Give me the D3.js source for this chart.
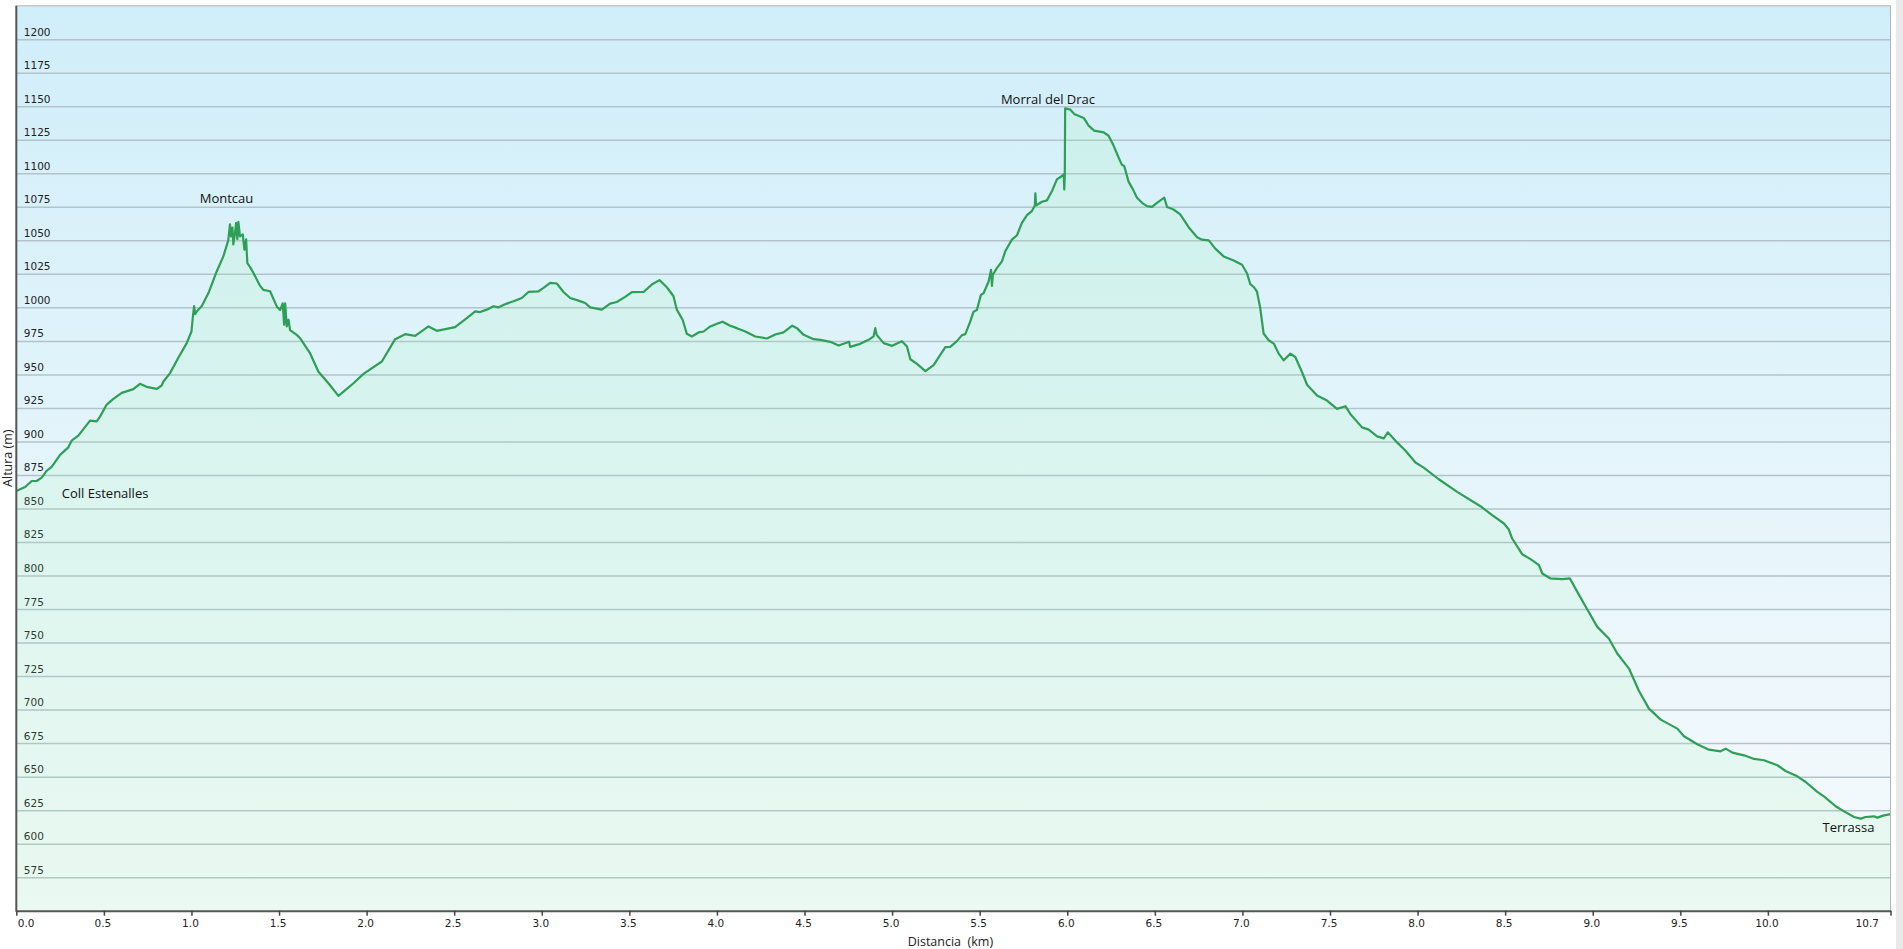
<!DOCTYPE html>
<html>
<head>
<meta charset="utf-8">
<script src="https://cdn.jsdelivr.net/npm/d3@7"></script>
<style>
  html, body { margin: 0; padding: 0; background: #ffffff; }
  svg { display: block; }
</style>
</head>
<body>
<svg id="chart" width="1903" height="949"></svg>
<script>
// ---------------- DATA ----------------
const distanceKm = [
  0.000,0.050,0.088,0.116,0.145,0.173,0.202,0.250,0.297,0.316,0.354,0.421,0.459,0.478,0.516,0.554,0.602,0.668,0.706,0.744,
  0.802,0.830,0.840,0.878,0.925,0.973,1.000,1.008,1.015,1.021,1.030,1.059,1.097,1.144,1.182,1.210,1.220,1.226,1.234,1.239,
  1.249,1.255,1.262,1.268,1.277,1.293,1.302,1.312,1.319,1.335,1.354,1.392,1.411,1.449,1.487,1.506,1.521,1.529,1.535,1.544,
  1.554,1.563,1.601,1.620,1.677,1.725,1.782,1.839,1.858,1.925,1.982,2.087,2.163,2.220,2.277,2.353,2.401,2.505,2.572,2.620,
  2.648,2.686,2.724,2.753,2.800,2.838,2.886,2.924,2.981,3.010,3.048,3.086,3.124,3.162,3.210,3.248,3.276,3.343,3.390,3.428,
  3.476,3.514,3.581,3.628,3.672,3.714,3.752,3.771,3.804,3.828,3.857,3.895,3.924,3.962,4.000,4.032,4.076,4.114,4.162,4.219,
  4.285,4.333,4.380,4.430,4.457,4.495,4.552,4.590,4.647,4.695,4.755,4.760,4.818,4.866,4.894,4.904,4.912,4.952,5.000,5.056,
  5.085,5.104,5.142,5.190,5.237,5.275,5.304,5.332,5.370,5.399,5.418,5.446,5.465,5.484,5.507,5.522,5.551,5.565,5.570,5.575,
  5.598,5.627,5.646,5.684,5.713,5.741,5.770,5.798,5.815,5.818,5.822,5.856,5.884,5.913,5.941,5.970,5.980,5.983,5.986,5.988,
  6.017,6.040,6.094,6.122,6.154,6.208,6.236,6.265,6.293,6.312,6.325,6.350,6.375,6.398,6.427,6.455,6.484,6.512,6.554,6.570,
  6.607,6.645,6.693,6.741,6.769,6.808,6.845,6.893,6.950,6.998,7.026,7.045,7.068,7.083,7.102,7.121,7.150,7.179,7.207,7.236,
  7.274,7.302,7.340,7.369,7.426,7.483,7.540,7.588,7.616,7.683,7.721,7.769,7.807,7.830,7.883,7.931,7.988,8.035,8.121,8.226,
  8.359,8.426,8.493,8.521,8.540,8.597,8.645,8.693,8.712,8.759,8.826,8.870,8.912,8.969,9.026,9.092,9.140,9.207,9.264,9.321,
  9.388,9.483,9.521,9.597,9.664,9.730,9.759,9.797,9.864,9.921,9.978,10.054,10.101,10.168,10.216,10.282,10.320,10.387,10.435,10.492,
  10.530,10.558,10.606,10.625,10.663,10.700
];
const altitudeM = [
  863,866,870.5,870.5,873,878,881,890,895.6,900.6,904.3,915.5,915,918.5,927.5,931.7,936.2,939,943,940.7,
  939.2,941.7,944.7,951,962.4,973.3,982,993,1001,995,997,1001,1010.7,1026.8,1038,1050,1062,1053,1059.5,1047,
  1055.8,1063,1050.8,1063.8,1053,1054.5,1043,1050.8,1033,1030,1025.6,1016,1013,1012,1000.7,998,1003,987,1003,985.8,
  990.8,983,979.5,977,965.8,952,943.4,934,936,943.4,950.4,959.6,976.3,980,978.8,985.8,982.5,985.3,992,997,
  996.5,998.3,1000.8,1000,1002.8,1004.5,1007,1011.5,1012,1014.5,1018.3,1017.8,1011.5,1007,1005,1003.3,1000,998.3,1002.8,1004,
  1007.8,1011.3,1011.5,1017,1020.3,1015,1008.3,998.3,990.8,980.3,978.3,981.3,982,985.8,987.8,989.3,986.3,984.5,982,978.3,
  976.8,979.8,981.3,986.3,984.5,979.5,976.3,975.8,974.3,971.5,974.3,970.5,972.8,975.8,978.3,984.5,979.5,973.3,971.3,974.8,
  970.8,961.3,957.8,952.5,957,964.5,970.3,970.5,974.8,979.3,980,989.3,996.8,998,1009.3,1010.5,1019.3,1028,1016,1024.3,
  1029.3,1034.3,1041.8,1050.5,1053.8,1063,1068.8,1071.8,1076,1085,1076,1078.8,1079.8,1086.8,1095.5,1098,1099.3,1088,1099,1148.5,
  1147.5,1144.3,1141.3,1135.5,1131.8,1130.5,1128,1120.5,1111.8,1106.3,1105.5,1093.8,1088,1081.8,1078,1075.5,1075,1078,1081.8,1074.8,
  1073,1069.3,1059.8,1052.3,1050.5,1050,1043.8,1038,1035,1031.8,1025.5,1017.3,1014.8,1011.8,999.3,980.5,975.5,973,965.5,960.5,
  965.5,963,951.8,942.3,934.3,930.5,924.3,926.3,920.5,910.5,908.8,903.8,902.3,906.8,899.3,893,884.3,880.5,871.8,862.4,
  851.7,845,838.8,834.3,827.6,815.9,812.2,807.7,801.5,797.8,797.3,797.8,787.8,774.6,761.7,753,741.8,730.6,713.9,700.7,
  692.5,685.8,680.1,674.1,670.1,668.9,670.9,667.9,665.9,663.2,662.2,658.5,654.2,650.2,646,638.6,635.3,627.9,624.1,619.9,
  618.7,619.9,620.4,619.4,621.1,622
];
const yTicks = [575,600,625,650,675,700,725,750,775,800,825,850,875,900,925,950,975,1000,1025,1050,1075,1100,1125,1150,1175,1200];
const xTicks = [0,0.5,1,1.5,2,2.5,3,3.5,4,4.5,5,5.5,6,6.5,7,7.5,8,8.5,9,9.5,10,10.7];
const placeNames = ["Coll Estenalles","Montcau","Morral del Drac","Terrassa"];
const placeKm     = [0.26, 1.20, 5.89, 10.46];
const placeAlt    = [858, 1078, 1152, 609];
const xTitle = "Distancia  (km)";
const yTitle = "Altura (m)";

// ---------------- CHART ----------------
const svg = d3.select("#chart");
const L = 16.3, R = 1890.5, T = 5.7, B = 910.7;
const x = d3.scaleLinear().domain([0, 10.7]).range([L, R]);
const y = d3.scaleLinear().domain([550, 1225]).range([B, T]);

const defs = svg.append("defs");
const bg = defs.append("linearGradient").attr("id","bg").attr("x1",0).attr("y1",0).attr("x2",0).attr("y2",1);
bg.append("stop").attr("offset","0%").attr("stop-color","#d0eef9");
bg.append("stop").attr("offset","55%").attr("stop-color","#e6f5fb");
bg.append("stop").attr("offset","100%").attr("stop-color","#f6fafd");

svg.append("rect").attr("x",1896).attr("y",0).attr("width",7).attr("height",949).attr("fill","#e9e9e9");

svg.append("rect").attr("x",L).attr("y",T).attr("width",R-L).attr("height",B-T).attr("fill","url(#bg)");

// grid + y labels
const yAxis = d3.axisRight(y).tickValues(yTicks).tickSize(R - L).tickFormat(d3.format("d"));
const gy = svg.append("g").attr("transform",`translate(${L},0)`).call(yAxis);
gy.select(".domain").remove();
gy.selectAll(".tick line").attr("stroke","#b3c3ca").attr("stroke-width",1.5);
gy.selectAll(".tick text")
  .attr("x", 7.5).attr("dy", -4).attr("y", 0)
  .attr("text-anchor","start").attr("dominant-baseline","auto")
  .attr("fill","#222").style("font-family","Verdana, 'DejaVu Sans', sans-serif").style("font-size","10.5px");

const pts = distanceKm.map((d,i)=>[d, altitudeM[i]]);
const area = d3.area().x(d=>x(d[0])).y0(y(550)).y1(d=>y(d[1]));
svg.append("path").datum(pts).attr("d",area).attr("fill","rgb(150,250,160)").attr("fill-opacity",0.12);
const line = d3.line().x(d=>x(d[0])).y(d=>y(d[1]));
svg.append("path").datum(pts).attr("d",line).attr("fill","none").attr("stroke","#2e9f56").attr("stroke-width",2.2).attr("stroke-linejoin","round");

// borders
svg.append("line").attr("x1",L).attr("x2",R).attr("y1",T).attr("y2",T).attr("stroke","#c8c8c8").attr("stroke-width",1.5);
svg.append("line").attr("x1",R).attr("x2",R).attr("y1",T).attr("y2",B).attr("stroke","#b4b4b4").attr("stroke-width",1);

// x axis
const xAxis = d3.axisBottom(x).tickValues(xTicks).tickSize(5).tickSizeOuter(0).tickFormat(d3.format(".1f"));
const gx = svg.append("g").attr("transform",`translate(0,${B})`).call(xAxis);
gx.select(".domain").attr("stroke","#555").attr("stroke-width",2);
gx.selectAll(".tick line").attr("stroke","#444").attr("stroke-width",1.5);
gx.selectAll(".tick text").attr("y", 9).attr("dx", -1.5)
  .attr("fill","#222").style("font-family","Verdana, 'DejaVu Sans', sans-serif").style("font-size","10.5px");
gx.selectAll(".tick text").filter(d=>d===0).attr("text-anchor","start").attr("dx",1);
gx.selectAll(".tick text").filter(d=>d===10.7).attr("text-anchor","end").attr("dx",-12);

// left axis line
svg.append("line").attr("x1",L).attr("x2",L).attr("y1",T).attr("y2",B+1).attr("stroke","#555").attr("stroke-width",2);

// place labels
const lblFont = "'Open Sans', 'Noto Sans', sans-serif";
svg.append("g").selectAll("text").data(placeNames).join("text")
  .attr("x",(d,i)=>x(placeKm[i])).attr("y",(d,i)=>y(placeAlt[i]))
  .attr("text-anchor",(d,i)=> i===0 ? "start" : "middle")
  .attr("fill","#111").style("font-family",lblFont).style("font-size","13px")
  .text(d=>d);

// axis titles
svg.append("text").attr("x",(L+R)/2 - 3).attr("y",946)
  .attr("text-anchor","middle").attr("fill","#222").attr("xml:space","preserve")
  .style("font-family",lblFont).style("font-size","12.5px").style("white-space","pre")
  .text(xTitle);
svg.append("text").attr("transform",`translate(12,${(T+B)/2}) rotate(-90)`)
  .attr("text-anchor","middle").attr("fill","#222")
  .style("font-family",lblFont).style("font-size","12.5px")
  .text(yTitle);
</script>
</body>
</html>
